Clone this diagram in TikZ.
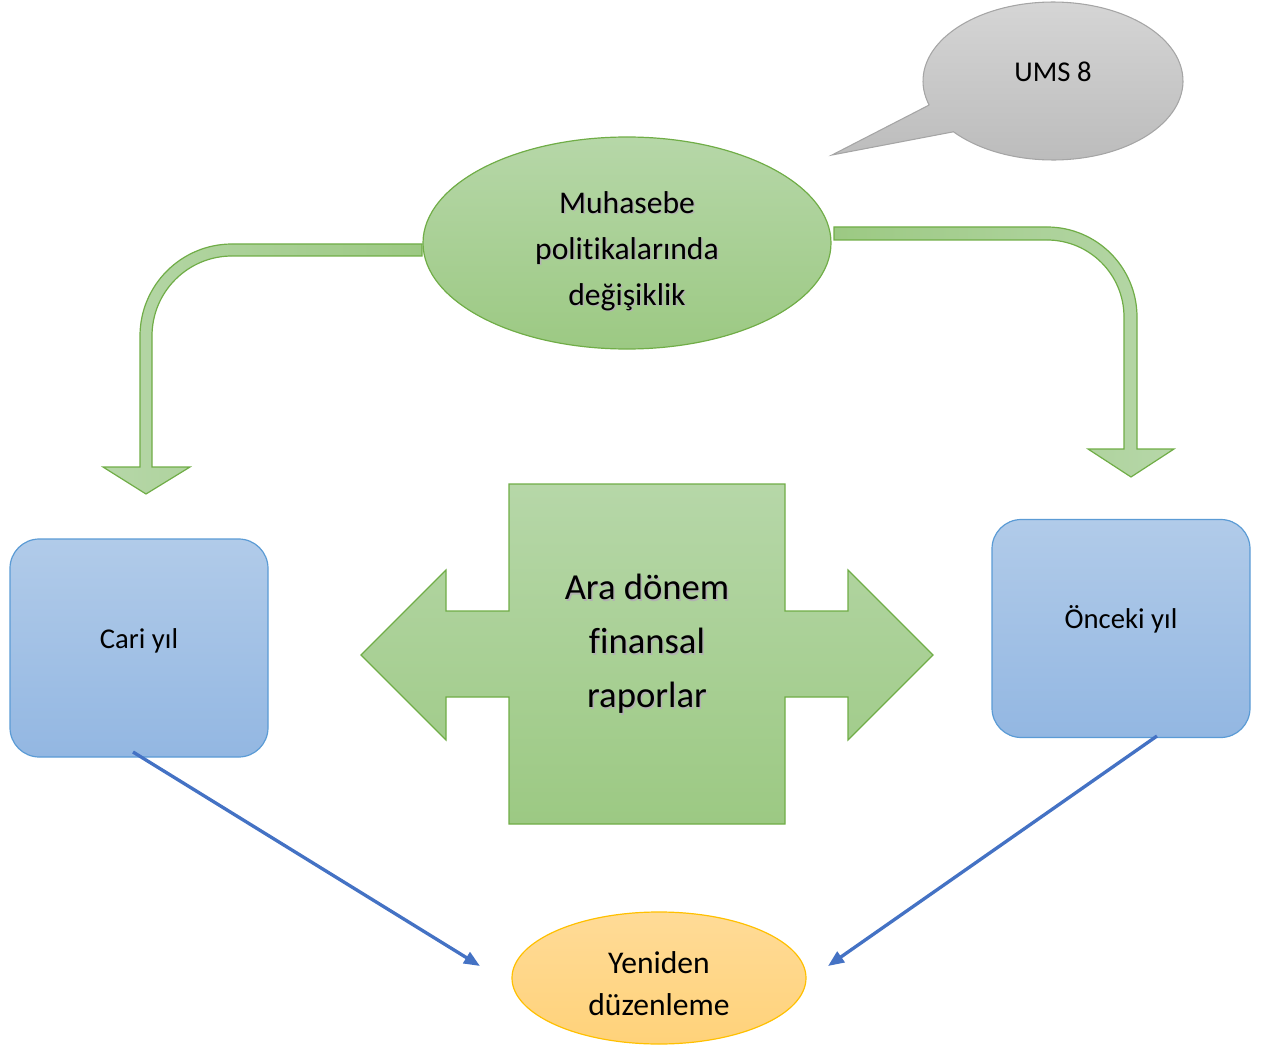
\documentclass[tikz,border=0pt]{standalone}
\usepackage{fontspec}
\setmainfont[Ligatures=CommonOff]{Carlito}
\usetikzlibrary{shapes.geometric,arrows.meta}

\definecolor{gTop}{HTML}{B6D7A8}
\definecolor{gBot}{HTML}{9CC983}
\definecolor{gLine}{HTML}{70AD47}
\definecolor{bTop}{HTML}{B1CBE9}
\definecolor{bBot}{HTML}{93B7E2}
\definecolor{bLine}{HTML}{5B9BD5}
\definecolor{oTop}{HTML}{FFDB97}
\definecolor{oBot}{HTML}{FFD27A}
\definecolor{oLine}{HTML}{FFC000}
\definecolor{sTop}{HTML}{D5D5D5}
\definecolor{sBot}{HTML}{BCBCBC}
\definecolor{sLine}{HTML}{A5A5A5}
\definecolor{link}{HTML}{4472C4}

\tikzset{
  greenshape/.style={draw=gLine, line width=0.9pt, top color=gTop, bottom color=gBot},
  bluebox/.style={draw=bLine, line width=0.9pt, top color=bTop, bottom color=bBot,
    rounded corners=22pt, minimum width=193.5pt, minimum height=163.5pt, inner sep=0pt},
  goal/.style={ellipse, draw=oLine, line width=0.9pt, top color=oTop, bottom color=oBot,
    minimum width=220.5pt, minimum height=99pt, inner sep=0pt},
  topic/.style={ellipse, greenshape, minimum width=306pt, minimum height=159pt, inner sep=0pt},
  labeltext/.style={font=\fontsize{21.5pt}{26pt}\selectfont, align=center, text=black},
  bigtext/.style={font=\fontsize{23.7pt}{34.5pt}\selectfont, align=center},
  hugetext/.style={font=\fontsize{27.5pt}{40.5pt}\selectfont, align=center},
  link/.style={draw=link, line width=2.5pt, -{Triangle[length=12pt,width=9.5pt]}},
}

\begin{document}
\begin{tikzpicture}[x=0.75pt,y=-0.75pt]
\useasboundingbox (0,0) rectangle (1268,1045);

% speech bubble with the standard reference
\path[draw=sLine, line width=0.8pt, top color=sTop, bottom color=sBot]
  (929.2,105) -- (832,155) -- (953.4,131.8)
  -- plot[domain=140:-197.7, samples=120] ({1053+130*cos(\x)},{81+79*sin(\x)})
  -- cycle;
\node[labeltext] (ums) at (1053,72) {UMS 8};

% central topic
\node[topic] (topic) at (627,243) {};
\node[bigtext, text=black!30] (topicshadow) at (628.5,252.5) {Muhasebe\\politikalarında\\değişiklik};
\node[bigtext] (topictext) at (627,251) {Muhasebe\\politikalarında\\değişiklik};

% bent block arrow to the left
\path[draw=gLine, line width=0.9pt, left color=gTop, right color=gBot]
  (422,244) -- (232,244) .. controls (181.2,244) and (140,285.2) .. (140,336)
  -- (140,467) -- (103,467) -- (146,494) -- (190,467) -- (152,467) -- (152,336)
  .. controls (152,291.8) and (187.8,256) .. (232,256) -- (422,256) -- cycle;

% bent block arrow to the right
\path[draw=gLine, line width=0.9pt, left color=gBot, right color=gTop]
  (834,227) -- (1047,227) .. controls (1096.7,227) and (1137,267.3) .. (1137,317)
  -- (1137,449) -- (1174,449) -- (1131,477) -- (1088,449) -- (1124,449) -- (1124,317)
  .. controls (1124,274.5) and (1089.5,240) .. (1047,240) -- (834,240) -- cycle;

% period boxes
\node[bluebox] (cari) at (139,648) {};
\node[labeltext] (caritext) at (139,641) {Cari yıl};
\node[bluebox] (onceki) at (1121,628.5) {};
\node[labeltext] (oncekitext) at (1121,619) {Önceki yıl};

% double-headed cross for interim reports
\path[greenshape]
  (509,484) -- (785,484) -- (785,611) -- (848,611) -- (848,570) -- (933,655)
  -- (848,740) -- (848,697) -- (785,697) -- (785,824) -- (509,824) -- (509,697)
  -- (446,697) -- (446,740) -- (361,655) -- (446,570) -- (446,611) -- (509,611) -- cycle;
\node[hugetext, text=black!30] (arashadow) at (648.5,645.5) {Ara dönem\\finansal\\raporlar};
\node[hugetext] (aratext) at (647,644) {Ara dönem\\finansal\\raporlar};

% restatement
\node[goal] (goal) at (659,978) {};
\node[bigtext, font=\fontsize{23.7pt}{32pt}\selectfont] (goaltext) at (659,983.5) {Yeniden\\düzenleme};

% links into the restatement
\coordinate (cariout) at (133,752);
\coordinate (goalin1) at (480,966);
\coordinate (oncekiout) at (1157,736);
\coordinate (goalin2) at (828,966);
\draw[link] (cariout) -- (goalin1);
\draw[link] (oncekiout) -- (goalin2);
\end{tikzpicture}
\end{document}
